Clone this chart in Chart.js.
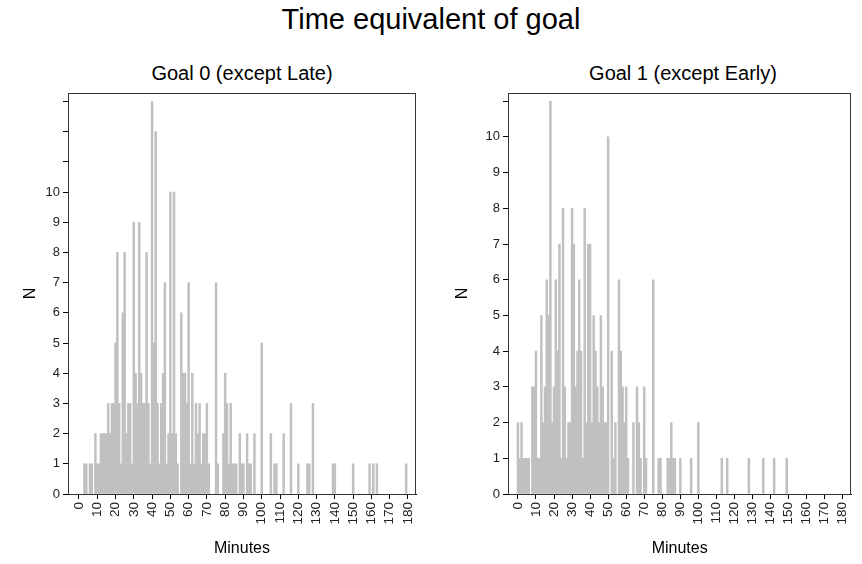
<!DOCTYPE html>
<html>
<head>
<meta charset="utf-8">
<script src="https://cdn.jsdelivr.net/npm/chart.js@4"></script>
<style>
  body { margin: 0; background: #fff; font-family: "Liberation Sans", Arial, sans-serif; }
  #page { position: relative; width: 862px; height: 564px; overflow: hidden; }
  #main-title { position: absolute; left: 0; top: 3px; width: 862px; text-align: center; font-size: 29px; color: #000; }
  .sub { position: absolute; top: 62px; font-size: 20px; color: #000; transform: translateX(-50%); white-space: nowrap; }
  .box { position: absolute; top: 50px; width: 431px; height: 514px; }
</style>
</head>
<body>
<div id="page">
  <div id="main-title">Time equivalent of goal</div>
  <div class="sub" style="left:242px">Goal 0 (except Late)</div>
  <div class="sub" style="left:683px">Goal 1 (except Early)</div>
  <div class="box" style="left:0"><canvas id="chart0"></canvas></div>
  <div class="box" style="left:431px"><canvas id="chart1"></canvas></div>
</div>
<script>
// minute -> count, only minutes with at least one goal
const goal0Minutes = [3, 4, 6, 7, 9, 10, 11, 12, 13, 14, 15, 16, 17, 18, 19, 20, 21, 22, 23, 24,
  25, 26, 27, 28, 29, 30, 31, 32, 33, 34, 35, 36, 37, 38, 39, 40, 41, 42, 43, 44,
  45, 46, 47, 48, 49, 50, 51, 52, 53, 54, 56, 57, 58, 59, 60, 61, 62, 63, 64, 65,
  66, 67, 68, 69, 70, 71, 75, 76, 79, 80, 81, 82, 83, 84, 85, 86, 88, 89, 90, 92,
  93, 94, 96, 100, 105, 107, 108, 112, 116, 120, 125, 126, 128, 139, 140, 150, 159, 161, 163, 179];
const goal0Counts = [1, 1, 1, 1, 2, 1, 1, 2, 2, 2, 2, 3, 2, 3, 3, 5, 8, 3, 1, 6,
  8, 2, 3, 3, 1, 9, 4, 3, 9, 4, 3, 3, 8, 3, 1, 13, 5, 12, 3, 1,
  3, 4, 7, 1, 2, 10, 2, 10, 2, 1, 6, 4, 4, 3, 7, 1, 4, 1, 3, 2,
  3, 1, 2, 2, 3, 1, 7, 1, 2, 4, 3, 1, 3, 1, 1, 1, 2, 1, 1, 2,
  1, 1, 2, 5, 2, 1, 1, 2, 3, 1, 1, 1, 3, 1, 1, 1, 1, 1, 1, 1];

const goal1Minutes = [0, 1, 2, 3, 4, 5, 6, 8, 9, 10, 11, 12, 13, 14, 15, 16, 17, 18, 19, 20,
  21, 22, 23, 24, 25, 26, 27, 28, 29, 30, 31, 32, 33, 34, 35, 36, 37, 38, 39, 40,
  41, 42, 43, 44, 45, 46, 47, 48, 49, 50, 52, 53, 54, 56, 57, 58, 59, 60, 61, 64,
  66, 67, 68, 70, 71, 75, 78, 79, 83, 84, 85, 86, 87, 90, 96, 100, 113, 116, 128, 136,
  142, 149];
const goal1Counts = [2, 1, 2, 1, 1, 1, 1, 3, 3, 4, 1, 1, 5, 2, 3, 6, 5, 11, 2, 3,
  6, 4, 7, 1, 8, 3, 1, 2, 2, 8, 7, 3, 4, 6, 4, 1, 8, 2, 7, 7,
  2, 5, 4, 3, 2, 5, 3, 2, 2, 10, 4, 1, 2, 6, 4, 3, 2, 3, 1, 2,
  3, 2, 1, 3, 1, 6, 1, 1, 1, 1, 2, 1, 1, 1, 1, 2, 1, 1, 1, 1,
  1, 1];

const yLabelMax = 10;
const fontFamily = "'Liberation Sans', Arial, sans-serif";

const boxPlugin = {
  id: "plotBox",
  afterDraw(chart) {
    const a = chart.chartArea;
    const ctx = chart.ctx;
    ctx.save();
    ctx.strokeStyle = "#333";
    ctx.lineWidth = 1;
    ctx.strokeRect(Math.round(a.left) + 0.5, Math.round(a.top) + 0.5,
      Math.round(a.right - a.left) - 1, Math.round(a.bottom - a.top));
    ctx.restore();
  }
};

function makeChart(id, minutes, counts, opts) {
  const points = minutes.map((m, i) => ({ x: m, y: counts[i] }));
  return new Chart(id, {
    type: "bar",
    data: {
      datasets: [{
        data: points,
        backgroundColor: "#c0c0c0",
        borderWidth: 0,
        barPercentage: 1,
        categoryPercentage: 1
      }]
    },
    plugins: [boxPlugin],
    options: {
      responsive: true,
      maintainAspectRatio: false,
      animation: false,
      layout: { padding: { top: 43, right: opts.padRight, bottom: 0, left: 0 } },
      plugins: { legend: { display: false }, tooltip: { enabled: false } },
      scales: {
        x: {
          type: "linear",
          offset: false,
          min: opts.xMin,
          max: opts.xMax,
          afterFit: (s) => { s.height = 70; },
          grid: { offset: false, drawOnChartArea: false, drawTicks: true, tickLength: 5, color: "#000" },
          border: { display: true, color: "#000" },
          ticks: {
            stepSize: 10,
            includeBounds: false,
            autoSkip: false,
            minRotation: 90,
            maxRotation: 90,
            padding: 3,
            color: "#222",
            font: { family: fontFamily, size: 13.5 }
          },
          title: {
            display: true,
            text: "Minutes",
            color: "#000",
            padding: { top: 0, bottom: 6 },
            font: { family: fontFamily, size: 16 }
          }
        },
        y: {
          min: 0,
          max: opts.yMax,
          afterFit: (s) => { s.width = opts.yWidth; },
          grid: { drawOnChartArea: false, drawTicks: true, tickLength: 5, color: "#000" },
          border: { display: true, color: "#000" },
          ticks: {
            stepSize: 1,
            includeBounds: false,
            padding: 3,
            color: "#222",
            font: { family: fontFamily, size: 13 },
            callback: (v) => (v <= yLabelMax ? v : "")
          },
          title: {
            display: true,
            text: "N",
            color: "#000",
            padding: { top: opts.titlePad, bottom: 0 },
            font: { family: fontFamily, size: 16 }
          }
        }
      }
    }
  });
}

makeChart("chart0", goal0Minutes, goal0Counts,
  { xMin: -6, xMax: 184.4, yMax: 13.28, yWidth: 68, padRight: 15, titlePad: 21 });
makeChart("chart1", goal1Minutes, goal1Counts,
  { xMin: -5.5, xMax: 184.8, yMax: 11.23, yWidth: 77, padRight: 4, titlePad: 22 });
</script>
</body>
</html>
